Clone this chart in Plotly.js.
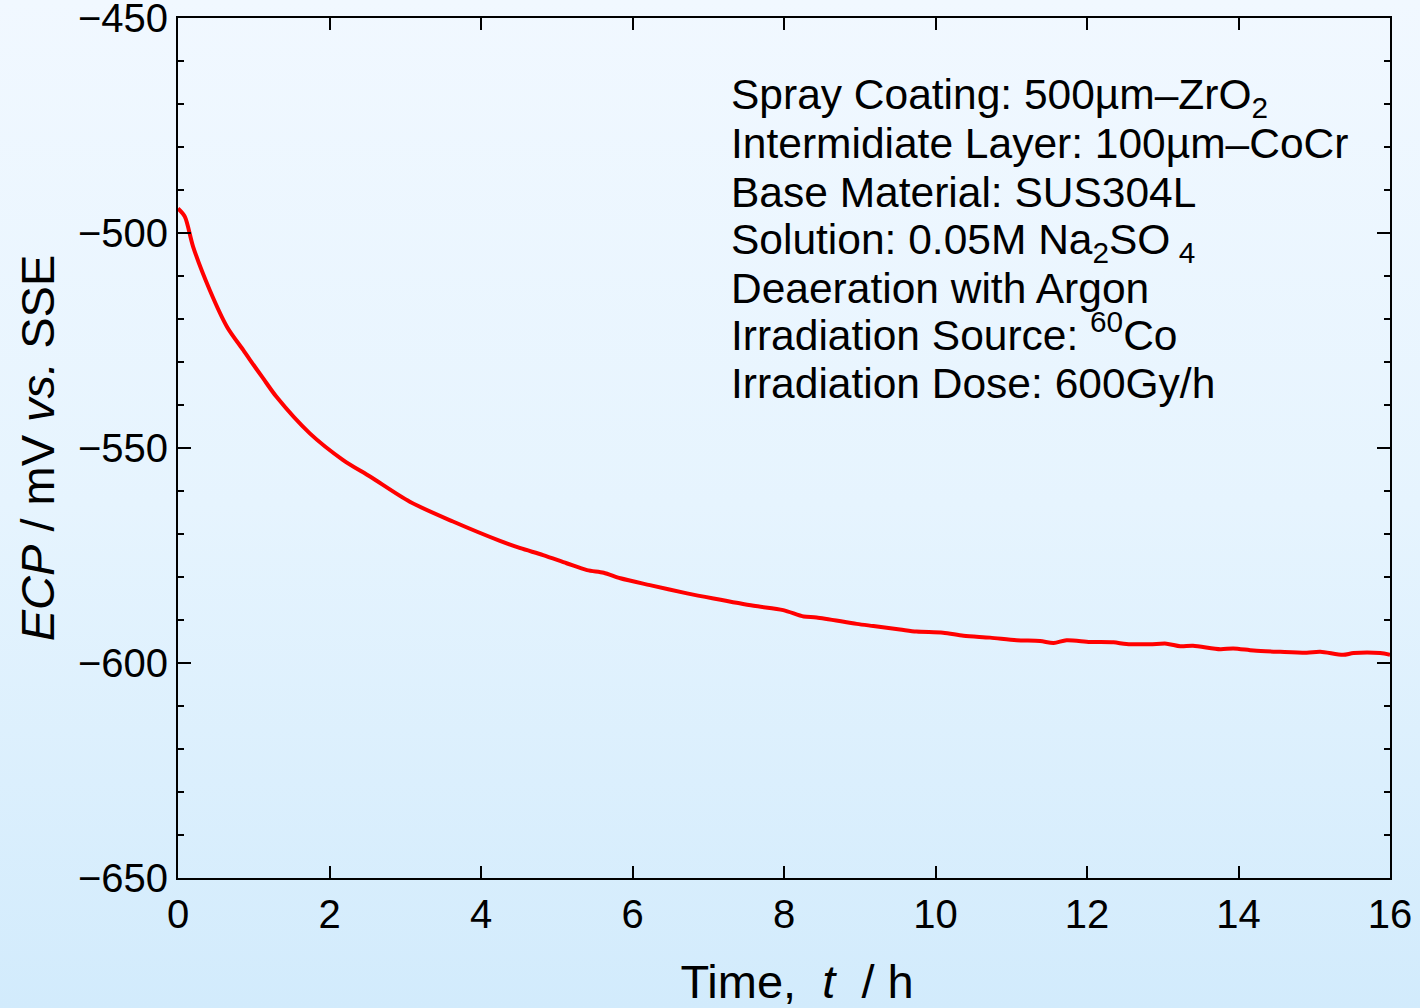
<!DOCTYPE html>
<html>
<head>
<meta charset="utf-8">
<script src="https://cdn.plot.ly/plotly-3.0.1.min.js"></script>
<style>
  html, body { margin: 0; padding: 0; }
  body { width: 1420px; height: 1008px; background: linear-gradient(to bottom, #f1f8ff 0%, #e6f4fe 50%, #d2ebfc 100%); }
  #chart { width: 1420px; height: 1008px; }
</style>
</head>
<body>
<div id="chart"></div>
<script>
// Time (h)
const timeH = [0, 0.09, 0.2, 0.42, 0.65, 0.86, 0.95, 1.12, 1.3, 1.74, 2.18, 2.54, 3.06, 3.63, 4.25, 4.52, 4.82, 5.13, 5.4, 5.62, 5.84, 6.23, 6.72, 7.07, 7.6, 7.99, 8.26, 8.43, 8.96, 9.18, 9.53, 9.75, 10.1, 10.37, 10.72, 11.07, 11.38, 11.56, 11.73, 12.04, 12.35, 12.52, 12.83, 13.05, 13.23, 13.4, 13.76, 13.93, 14.2, 14.55, 14.9, 15.08, 15.38, 15.52, 15.87, 16.0];
// ECP (mV vs. SSE)
const ecpMV = [-494.3, -496.2, -503.2, -513.3, -521.9, -527.2, -529.5, -533.7, -538.1, -546.6, -552.8, -556.7, -562.5, -567.1, -571.6, -573.3, -574.9, -576.8, -578.4, -579.0, -580.3, -581.9, -583.8, -585.0, -586.7, -587.7, -589.2, -589.4, -590.9, -591.4, -592.2, -592.7, -592.95, -593.65, -594.1, -594.7, -594.9, -595.35, -594.7, -595.1, -595.2, -595.6, -595.65, -595.5, -596.1, -596.0, -596.8, -596.6, -597.1, -597.4, -597.6, -597.4, -598.1, -597.7, -597.7, -598.1];
// Tick values
const yTicks = [-650, -600, -550, -500, -450];
const xTicks = [0, 2, 4, 6, 8, 10, 12, 14, 16];
// Condition notes
const notes = [
  "Spray Coating: 500\u00b5m\u2013ZrO<sub>2</sub>",
  "Intermidiate Layer: 100\u00b5m\u2013CoCr",
  "Base Material: SUS304L",
  "Solution: 0.05M Na<sub>2</sub>SO<sub> 4</sub>",
  "Deaeration with Argon",
  "Irradiation Source: <sup>60</sup>Co",
  "Irradiation Dose: 600Gy/h"
];
const noteY = [-468.6, -479.3, -490.5, -502.1, -512.8, -523.1, -535.1];

const FONT = "Liberation Sans, Arial, sans-serif";

const trace = {
  x: timeH, y: ecpMV, type: 'scatter', mode: 'lines',
  line: { color: '#ff0000', width: 4, shape: 'spline', smoothing: 0.8 },
  hoverinfo: 'skip'
};

const annotations = notes.map((t, i) => ({
  text: t, x: 7.28, y: noteY[i], xref: 'x', yref: 'y',
  xanchor: 'left', yanchor: 'middle', showarrow: false, align: 'left',
  font: { family: FONT, size: 42.5, color: '#000' }
}));

const layout = {
  width: 1420, height: 1008,
  paper_bgcolor: 'rgba(0,0,0,0)', plot_bgcolor: 'rgba(0,0,0,0)',
  margin: { l: 178, r: 30, t: 18, b: 130 },
  showlegend: false,
  font: { family: FONT, color: '#000' },
  xaxis: {
    range: [0, 16], tickmode: 'array', tickvals: xTicks,
    showgrid: false, zeroline: false,
    showline: true, linecolor: '#000', linewidth: 2, mirror: 'allticks',
    ticks: 'inside', ticklen: 12, tickwidth: 2, tickcolor: '#000',
    tickfont: { family: FONT, size: 40, color: '#000' },
    ticklabelstandoff: 0, ticklabeloverflow: 'allow',
    title: { text: "<span style=\"color:rgba(0,0,0,0)\">\u00a0\u00a0</span>Time,\u00a0 <i>t</i> \u00a0/ h", font: { family: FONT, size: 47, color: '#000' }, standoff: 32 }
  },
  yaxis: {
    range: [-650, -450], tickmode: 'array', tickvals: yTicks,
    showgrid: false, zeroline: false,
    showline: true, linecolor: '#000', linewidth: 2, mirror: 'allticks',
    ticks: 'inside', ticklen: 13, tickwidth: 2, tickcolor: '#000',
    minor: { dtick: 10, tick0: -650, ticks: 'inside', ticklen: 6, tickwidth: 2, tickcolor: '#000', showgrid: false },
    tickfont: { family: FONT, size: 40, color: '#000' },
    ticklabelstandoff: 0, ticklabeloverflow: 'allow',
    title: { text: "<i>ECP</i> / mV <i>vs.</i> SSE", font: { family: FONT, size: 47, color: '#000' }, standoff: 8 }
  },
  annotations: annotations
};

Plotly.newPlot('chart', [trace], layout, { displayModeBar: false, staticPlot: true });
</script>
</body>
</html>
